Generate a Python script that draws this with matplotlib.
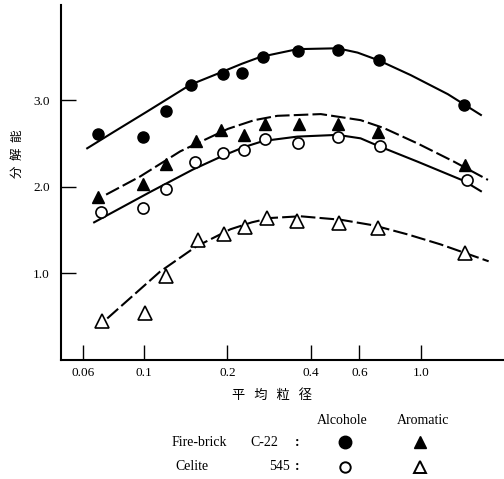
import matplotlib.pyplot as plt

plt.rcParams['font.family'] = ['Liberation Serif', 'Noto Sans CJK JP']

# measured points (mean particle size, resolution)
fb_alc_x = [0.068, 0.099, 0.120, 0.148, 0.192, 0.225, 0.268, 0.361, 0.500, 0.705, 1.43]
fb_alc_y = [2.61, 2.57, 2.87, 3.18, 3.30, 3.32, 3.50, 3.57, 3.58, 3.46, 2.95]
fb_aro_x = [0.068, 0.099, 0.120, 0.154, 0.190, 0.230, 0.274, 0.364, 0.500, 0.700, 1.45]
fb_aro_y = [1.88, 2.03, 2.26, 2.53, 2.66, 2.60, 2.73, 2.73, 2.73, 2.63, 2.25]
ce_alc_x = [0.070, 0.099, 0.120, 0.153, 0.192, 0.230, 0.274, 0.361, 0.500, 0.710, 1.47]
ce_alc_y = [1.71, 1.75, 1.97, 2.29, 2.39, 2.42, 2.55, 2.51, 2.57, 2.47, 2.08]
ce_aro_x = [0.0705, 0.101, 0.120, 0.156, 0.195, 0.232, 0.279, 0.357, 0.505, 0.700, 1.45]
ce_aro_y = [0.445, 0.54, 0.97, 1.39, 1.45, 1.54, 1.64, 1.60, 1.58, 1.52, 1.24]

# hand-drawn curves
c1_x = [0.0622, 0.0772, 0.1025, 0.147, 0.1855, 0.225, 0.263, 0.358, 0.500, 0.591, 0.705, 0.920, 1.253, 1.650]
c1_y = [2.445, 2.63, 2.87, 3.18, 3.31, 3.42, 3.50, 3.59, 3.60, 3.55, 3.46, 3.29, 3.07, 2.83]
c2_x = [0.0728, 0.0967, 0.135, 0.201, 0.250, 0.303, 0.435, 0.606, 0.734, 0.975, 1.32, 1.75]
c2_y = [1.91, 2.12, 2.41, 2.67, 2.77, 2.82, 2.84, 2.77, 2.68, 2.50, 2.29, 2.08]
c3_x = [0.0659, 0.105, 0.150, 0.193, 0.230, 0.270, 0.358, 0.500, 0.606, 0.705, 0.975, 1.43, 1.65]
c3_y = [1.59, 1.94, 2.20, 2.36, 2.46, 2.53, 2.58, 2.60, 2.56, 2.47, 2.29, 2.07, 1.95]
c4_x = [0.0735, 0.114, 0.154, 0.205, 0.245, 0.286, 0.367, 0.513, 0.676, 0.898, 1.18, 1.76]
c4_y = [0.48, 1.02, 1.31, 1.51, 1.59, 1.64, 1.66, 1.62, 1.555, 1.45, 1.335, 1.14]

xticks = [0.06, 0.1, 0.2, 0.4, 0.6, 1.0]
xticklabels = ['0.06', '0.1', '0.2', '0.4', '0.6', '1.0']
yticks = [1.0, 2.0, 3.0]

fig = plt.figure(figsize=(5.04, 4.79), dpi=100)
ax = fig.add_axes([0.121, 0.2484, 0.879, 0.7412])

lw = 1.5
ax.plot(c1_x, c1_y, color='black', lw=lw)
ax.plot(c2_x, c2_y, color='black', lw=lw, dashes=(7, 2))
ax.plot(c3_x, c3_y, color='black', lw=lw)
ax.plot(c4_x, c4_y, color='black', lw=lw, dashes=(7, 2))

ax.plot(fb_alc_x, fb_alc_y, 'o', color='black', ms=8, ls='none')
ax.plot(fb_aro_x, fb_aro_y, '^', color='black', ms=9, ls='none')
ax.plot(ce_alc_x, ce_alc_y, 'o', mfc='white', mec='black', mew=1.2, ms=8, ls='none')
ax.plot(ce_aro_x, ce_aro_y, '^', mfc='white', mec='black', mew=1.2, ms=9.5, ls='none')

ax.set_xscale('log')
ax.set_xlim(0.05, 2.0)
ax.set_ylim(0.0, 4.1)
ax.set_xticks(xticks)
ax.set_xticklabels(xticklabels)
ax.minorticks_off()
ax.set_yticks(yticks)
ax.set_yticklabels(['%.1f' % v for v in yticks])
ax.tick_params(axis='x', direction='in', length=11, width=1.0, pad=5, labelsize=9.5)
ax.tick_params(axis='y', direction='in', length=11, width=1.0, pad=8, labelsize=9.5)
ax.spines['top'].set_visible(False)
ax.spines['right'].set_visible(False)
ax.spines['left'].set_linewidth(1.5)
ax.spines['bottom'].set_linewidth(1.5)

cjk = ['Noto Sans CJK JP']
fig.text(17 / 504, 1 - 154 / 479, '分  解  能', rotation=90, ha='center', va='center',
         fontsize=9, family=cjk)
fig.text(272 / 504, 1 - 395 / 479, '平   均   粒   径', ha='center', va='center',
         fontsize=9.5, family=cjk)

# legend drawn as text and markers below the axes
fs = 10
fig.text(342 / 504, 1 - 420 / 479, 'Alcohole', ha='center', va='center', fontsize=fs)
fig.text(423 / 504, 1 - 420 / 479, 'Aromatic', ha='center', va='center', fontsize=fs)
fig.text(172 / 504, 1 - 442 / 479, 'Fire-brick', ha='left', va='center', fontsize=fs)
fig.text(250 / 504, 1 - 442 / 479, 'C-22', ha='left', va='center', fontsize=fs)
fig.text(297 / 504, 1 - 442 / 479, ':', ha='center', va='center', fontsize=fs, weight='bold')
fig.text(175 / 504, 1 - 467 / 479, 'Celite', ha='left', va='center', fontsize=fs)
fig.text(290 / 504, 1 - 467 / 479, '545', ha='right', va='center', fontsize=fs)
fig.text(297 / 504, 1 - 467 / 479, ':', ha='center', va='center', fontsize=fs, weight='bold')

ax.plot([345 / 504], [1 - 442 / 479], 'o', color='black', ms=9,
        transform=fig.transFigure, clip_on=False)
ax.plot([420 / 504], [1 - 442 / 479], '^', color='black', ms=8.5,
        transform=fig.transFigure, clip_on=False)
ax.plot([345 / 504], [1 - 467 / 479], 'o', mfc='white', mec='black', mew=1.4, ms=7.5,
        transform=fig.transFigure, clip_on=False)
ax.plot([420 / 504], [1 - 467 / 479], '^', mfc='white', mec='black', mew=1.4, ms=8,
        transform=fig.transFigure, clip_on=False)

fig.savefig('out.png', dpi=100)
